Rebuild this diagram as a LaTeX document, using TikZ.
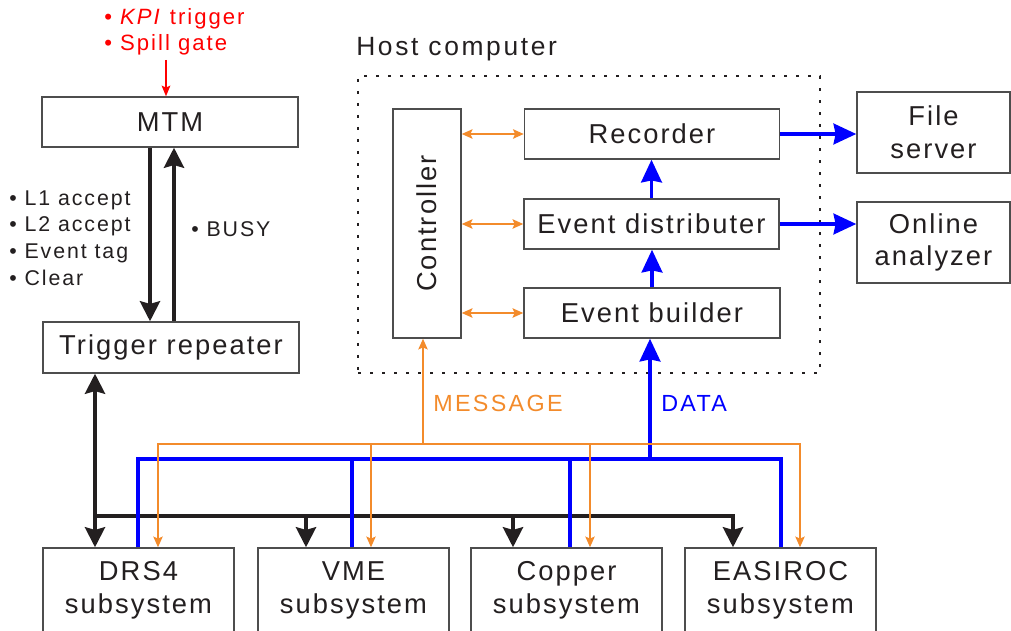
\documentclass[tikz,border=0pt]{standalone}
\usepackage{fontspec}
\setmainfont{Liberation Sans}
\newfontfamily\bigf{Liberation Sans}[LetterSpace=7.5]
\newfontfamily\midf{Liberation Sans}[LetterSpace=10]
\newfontfamily\smallf{Liberation Sans}[LetterSpace=9]
\usetikzlibrary{arrows.meta,calc}
\definecolor{ink}{HTML}{231F20}
\definecolor{orng}{RGB}{243,139,43}
\definecolor{blu}{RGB}{0,0,255}
\definecolor{rd}{RGB}{255,0,0}
\definecolor{frame}{HTML}{4D4D4D}
\tikzset{
  blkt/.tip={Stealth[length=15pt,width=15pt,inset=2pt]},
  blut/.tip={Stealth[length=17pt,width=15.5pt,inset=1.5pt]},
  ort/.tip={Stealth[length=8pt,width=7pt,inset=1.5pt]},
  rdt/.tip={Stealth[length=8pt,width=6.5pt,inset=1.5pt]},
}
\begin{document}
\begin{tikzpicture}[x=0.75pt,y=-0.75pt,
  box/.style={draw=frame, line width=1.1pt, rectangle, inner sep=0pt, text=ink,
    font=\bigf\fontsize{20.5pt}{24.5pt}\selectfont, align=center},
  wide/.style={minimum width=192pt, minimum height=37.5pt},
  sub/.style={minimum width=143.25pt, minimum height=63.75pt},
  side/.style={minimum width=114.75pt, minimum height=60.75pt},
  lbl/.style={text=ink, font=\smallf\fontsize{16pt}{20pt}\selectfont, align=left, inner sep=0pt},
  blk/.style={draw=ink, line width=3pt},
  bl/.style={draw=blu, line width=2.6pt},
  orl/.style={draw=orng, line width=1.3pt},
  orb/.style={draw=orng, line width=1.7pt},
  hostframe/.style={draw=ink, line width=1.2pt, dash pattern=on 2.6pt off 6.4pt, rectangle, inner sep=0pt},
]
\useasboundingbox (0,0) rectangle (1011,631);

% ---- host computer frame ----
\node[hostframe, minimum width=346.5pt, minimum height=222.75pt] (host) at (589,224.5) {};
\node[anchor=west, inner sep=0pt, text=ink, font=\midf\fontsize{19.8pt}{23pt}\selectfont] (hostlbl) at (356,49) {Host computer};

% ---- boxes ----
\node[box, wide] (mtm) at (170,122) {MTM};
\node[box, wide, minimum height=38.25pt] (tr) at (171,347.5) {Trigger repeater};
\node[box, minimum width=51pt, minimum height=171.75pt] (ctrl) at (427,223.5) {\rotatebox{90}{Controller}};
\node[box, wide, minimum width=191.25pt] (rec) at (652,134) {Recorder};
\node[box, wide, minimum width=191.25pt] (ed) at (651.5,224) {Event distributer};
\node[box, wide] (eb) at (652,313) {Event builder};
\node[box, side] (fs) at (933.5,132.5) {File\\server};
\node[box, side] (oa) at (933.5,242.5) {Online\\analyzer};
\node[box, sub] (drs) at (138.5,590.5) {DRS4\\subsystem};
\node[box, sub] (vme) at (353.5,590.5) {VME\\subsystem};
\node[box, sub] (cop) at (566.5,590.5) {Copper\\subsystem};
\node[box, sub] (eas) at (780.5,590.5) {EASIROC\\subsystem};

% ---- trigger inputs ----
\node[anchor=west, inner sep=0pt, text=rd, font=\smallf\fontsize{16.6pt}{19.5pt}\selectfont, align=left] (kpi) at (104,32)
  {• \textit{KPI} trigger\\• Spill gate};
\coordinate (kpiT) at (166,60);
\draw[draw=rd, line width=1.1pt, -rdt] (kpiT) -- (kpiT |- mtm.north);

% ---- MTM <-> trigger repeater ----
\draw[blk, -blkt] ([xshift=-15pt]mtm.south) -- ([xshift=-15pt]mtm.south |- tr.north);
\draw[blk, -blkt] ([xshift=3pt]mtm.south |- tr.north) -- ([xshift=3pt]mtm.south);
\node[lbl, anchor=west] (acc) at (9,238) {• L1 accept\\• L2 accept\\• Event tag\\• Clear};
\node[lbl, anchor=west] (busy) at (191,229) {• BUSY};

% ---- black trigger bus ----
\coordinate (kbus) at (95,516);
\coordinate (kV) at (306,516);
\coordinate (kC) at (513,516);
\coordinate (kE) at (733,516);
\draw[blk, blkt-blkt] (kbus |- tr.south) -- (kbus |- drs.north);
\draw[blk, -blkt, line join=miter] (kbus) -- (kE) -- (kE |- eas.north);
\draw[blk, -blkt] (kV) -- (kV |- vme.north);
\draw[blk, -blkt] (kC) -- (kC |- cop.north);

% ---- blue data bus ----
\coordinate (bD) at (138,459);
\coordinate (bV) at (352,459);
\coordinate (bC) at (570,459);
\coordinate (bE) at (781,459);
\coordinate (bData) at (650,459);
\draw[bl, line join=miter] (bD |- drs.north) -- (bD) -- (bE) -- (bE |- eas.north);
\draw[bl] (bV) -- (bV |- vme.north);
\draw[bl] (bC) -- (bC |- cop.north);
\draw[bl, -blut] (bData) -- (bData |- eb.south);
\node[anchor=west, inner sep=0pt, text=blu, font=\midf\fontsize{17.5pt}{20pt}\selectfont] (datalbl) at (661,403) {DATA};

% ---- orange message bus ----
\coordinate (oD) at (158,444);
\coordinate (oV) at (371,444);
\coordinate (oC) at (590,444);
\coordinate (oE) at (800,444);
\coordinate (oM) at (423,444);
\draw[orl, ort-ort, line join=miter] (oD |- drs.north) -- (oD) -- (oE) -- (oE |- eas.north);
\draw[orl, -ort] (oV) -- (oV |- vme.north);
\draw[orl, -ort] (oC) -- (oC |- cop.north);
\draw[orl, -ort] (oM) -- (oM |- ctrl.south);
\node[anchor=west, inner sep=0pt, text=orng, font=\midf\fontsize{17.5pt}{20pt}\selectfont] (msglbl) at (433,403) {MESSAGE};

% ---- inside host ----
\draw[orb, ort-ort] (ctrl.east |- rec.west) -- (rec.west);
\draw[orb, ort-ort] (ctrl.east |- ed.west) -- (ed.west);
\draw[orb, ort-ort] (ctrl.east |- eb.west) -- (eb.west);
\draw[bl, -blut] (eb.north) -- (eb.north |- ed.south);
\draw[bl, -blut] (ed.north) -- (ed.north |- rec.south);
\draw[bl, -blut] (rec.east) -- (rec.east -| fs.west);
\draw[bl, -blut] (ed.east) -- (ed.east -| oa.west);
\end{tikzpicture}
\end{document}
